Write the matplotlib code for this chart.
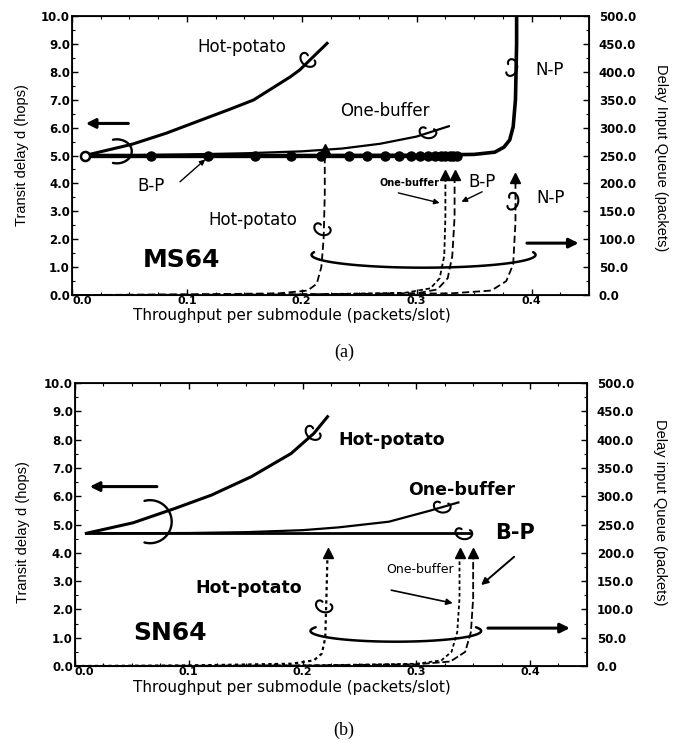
import numpy as np
import matplotlib
matplotlib.use('Agg')
import matplotlib.pyplot as plt
from matplotlib import transforms as mtrans
from matplotlib.ticker import MultipleLocator, FormatStrFormatter

plt.rcParams['font.family'] = ['DejaVu Sans']
plt.rcParams['font.weight'] = 'bold'

# ---------------- data : panel (a) MS64 ----------------
a_hot_x = [0.011, 0.052, 0.082, 0.120, 0.1375, 0.158, 0.190, 0.198, 0.222]
a_hot_y = [5.0, 5.40, 5.80, 6.39, 6.66, 6.99, 7.82, 8.06, 9.02]
a_one_x = [0.011, 0.05, 0.10, 0.15, 0.20, 0.235, 0.268, 0.300, 0.328]
a_one_y = [5.0, 5.01, 5.04, 5.08, 5.15, 5.25, 5.42, 5.68, 6.05]
a_bp_x = [0.011, 0.069, 0.118, 0.159, 0.191, 0.217, 0.241, 0.257, 0.272, 0.285,
          0.295, 0.303, 0.310, 0.316, 0.321, 0.325, 0.329, 0.332, 0.335]
a_bp_y = [5.0] * len(a_bp_x)
a_np_x = [0.011, 0.10, 0.20, 0.30, 0.350, 0.368, 0.376, 0.381, 0.384, 0.386, 0.387, 0.387]
a_np_y = [5.0, 5.0, 5.0, 5.01, 5.04, 5.12, 5.30, 5.56, 6.03, 7.0, 9.0, 10.0]
# queue delay (packets)
a_q_hot_x = [0.0, 0.10, 0.18, 0.205, 0.213, 0.217, 0.219, 0.220, 0.220]
a_q_hot_y = [0, 1, 3, 8, 20, 50, 100, 180, 262]
a_q_one_x = [0.0, 0.20, 0.290, 0.312, 0.320, 0.324, 0.325, 0.325]
a_q_one_y = [0, 1, 4, 12, 30, 70, 140, 215]
a_q_bp_x = [0.0, 0.20, 0.300, 0.318, 0.327, 0.331, 0.333, 0.333]
a_q_bp_y = [0, 1, 3, 10, 30, 70, 140, 215]
a_q_np_x = [0.0, 0.20, 0.330, 0.365, 0.378, 0.384, 0.386, 0.386]
a_q_np_y = [0, 1, 3, 8, 25, 55, 130, 210]

# ---------------- data : panel (b) SN64 ----------------
b_hot_x = [0.010, 0.051, 0.088, 0.120, 0.155, 0.190, 0.210, 0.222]
b_hot_y = [4.69, 5.06, 5.57, 6.04, 6.69, 7.51, 8.22, 8.81]
b_one_x = [0.010, 0.10, 0.15, 0.20, 0.232, 0.276, 0.313, 0.337]
b_one_y = [4.69, 4.70, 4.73, 4.80, 4.90, 5.10, 5.50, 5.78]
b_bp_x = [0.010, 0.348]
b_bp_y = [4.69, 4.69]
b_q_hot_x = [0.0, 0.10, 0.19, 0.210, 0.217, 0.220, 0.221, 0.222]
b_q_hot_y = [0, 1, 4, 10, 22, 50, 120, 200]
b_q_one_x = [0.0, 0.20, 0.300, 0.322, 0.331, 0.336, 0.338, 0.338]
b_q_one_y = [0, 1, 4, 10, 25, 60, 120, 200]
b_q_bp_x = [0.0, 0.20, 0.300, 0.330, 0.343, 0.348, 0.350, 0.350]
b_q_bp_y = [0, 1, 3, 8, 25, 60, 120, 200]

x_ticks = [0.0, 0.1, 0.2, 0.3, 0.4]
left_ticks = list(np.arange(0, 10.01, 1.0))
right_ticks = list(np.arange(0, 500.1, 50.0))

fig = plt.figure(figsize=(6.84, 7.45), dpi=100)
axA = fig.add_axes([0.1053, 0.6040, 0.7558, 0.3745])
axB = fig.add_axes([0.1096, 0.1060, 0.7485, 0.3799])


def setup(ax):
    ax.set_xlim(0, 0.45)
    ax.set_ylim(0, 10)
    ax.set_xticks(x_ticks)
    ax.set_yticks(left_ticks)
    ax.xaxis.set_minor_locator(MultipleLocator(0.025))
    ax.yaxis.set_minor_locator(MultipleLocator(0.5))
    ax.xaxis.set_major_formatter(FormatStrFormatter('%.1f'))
    ax.yaxis.set_major_formatter(FormatStrFormatter('%.1f'))
    ax.tick_params(which='both', direction='in', top=True, right=False,
                   labelsize=8.5, pad=1.5)
    ax.tick_params(axis='x', pad=0.5, labelsize=8)
    ax.tick_params(which='major', length=4, width=1)
    ax.tick_params(which='minor', length=2, width=0.8)
    ax.xaxis.get_major_ticks()[0].label1.set_horizontalalignment('left')
    for s in ax.spines.values():
        s.set_linewidth(1.3)
    ax2 = ax.twinx()
    ax2.set_ylim(0, 500)
    ax2.set_yticks(right_ticks)
    ax2.yaxis.set_minor_locator(MultipleLocator(25))
    ax2.yaxis.set_major_formatter(FormatStrFormatter('%.1f'))
    ax2.tick_params(which='both', direction='in', labelsize=8.5, pad=7)
    ax2.tick_params(which='major', length=4, width=1)
    ax2.tick_params(which='minor', length=2, width=0.8)
    return ax2


axA2 = setup(axA)
axB2 = setup(axB)


def hook(ax, x, y, s=1.0, rot=0.0, mirror=False, lw=1.5):
    t = np.linspace(0.35 * np.pi, 2.45 * np.pi, 80)
    hx = 4.2 * np.cos(t) + 1.1 * t - 5.5
    hy = 3.6 * np.sin(t)
    if mirror:
        hx = -hx
    tr = (mtrans.Affine2D().rotate_deg(rot).scale(s * fig.dpi / 72.0)
          + mtrans.ScaledTranslation(x, y, ax.transData))
    ax.plot(hx, hy, color='k', lw=lw, transform=tr, clip_on=False,
            solid_capstyle='round')


def earc(ax, cx, cy, a, b, t1, t2, lw=1.7):
    t = np.radians(np.linspace(t1, t2, 120))
    ax.plot(cx + a * np.cos(t), cy + b * np.sin(t), color='k', lw=lw,
            solid_capstyle='round')


def arrow(ax, x0, y0, x1, y1, lw=2.2, ms=14):
    ax.annotate('', xy=(x1, y1), xytext=(x0, y0),
                arrowprops=dict(arrowstyle='-|>', lw=lw, color='k',
                                mutation_scale=ms, shrinkA=0, shrinkB=0))


def qcurve(ax, xs, ys, ls, lw=1.3):
    ax.plot(xs, ys, color='k', lw=lw, linestyle=ls)
    ax.plot([xs[-1]], [ys[-1]], marker='^', color='k', ms=6.5, mec='k')


# ================= panel (a) =================
axA.plot(a_hot_x, a_hot_y, color='k', lw=2.2)
axA.plot(a_one_x, a_one_y, color='k', lw=1.6)
axA.plot(a_np_x, a_np_y, color='k', lw=2.6)
axA.plot(a_bp_x, a_bp_y, color='k', lw=2.4, marker='o', ms=6.5)
axA.plot([a_bp_x[0]], [a_bp_y[0]], marker='o', ms=6.5, mfc='white',
         mec='k', mew=1.8, color='k')

qcurve(axA2, a_q_hot_x, a_q_hot_y, (0, (4, 2)))
qcurve(axA2, a_q_one_x, a_q_one_y, (0, (2.5, 1.5)))
qcurve(axA2, a_q_bp_x, a_q_bp_y, (0, (4, 2)))
qcurve(axA2, a_q_np_x, a_q_np_y, (0, (4, 2)))

axA.text(0.148, 8.9, 'Hot-potato', fontsize=12, fontweight='normal',
         ha='center', va='center')
hook(axA, 0.205, 8.39, rot=-40)
axA.text(0.272, 6.6, 'One-buffer', fontsize=12, fontweight='normal',
         ha='center', va='center')
hook(axA, 0.310, 5.80, rot=-10)
axA.text(0.416, 8.06, 'N-P', fontsize=12, fontweight='normal',
         ha='center', va='center')
hook(axA, 0.383, 8.13, rot=80, mirror=True)
axA.text(0.069, 3.9, 'B-P', fontsize=12, fontweight='normal',
         ha='center', va='center')
axA.annotate('', xy=(0.116, 4.86), xytext=(0.094, 4.06),
             arrowprops=dict(arrowstyle='-|>', lw=1.0, color='k',
                             mutation_scale=8, shrinkA=0, shrinkB=0))
earc(axA, 0.039, 5.15, 0.013, 0.43, -105, 105)
arrow(axA, 0.049, 6.15, 0.012, 6.15)
axA.text(0.157, 2.7, 'Hot-potato', fontsize=12, fontweight='normal',
         ha='center', va='center')
hook(axA, 0.218, 2.33, rot=-20)
axA.text(0.095, 1.25, 'MS64', fontsize=18, fontweight='bold',
         ha='center', va='center')

earc(axA2, 0.306, 72, 0.0975, 23, 168, 372, lw=1.8)
axA2.text(0.294, 200, 'One-buffer', fontsize=7, fontweight='bold',
          ha='center', va='center')
axA2.annotate('', xy=(0.320, 165), xytext=(0.284, 183),
              arrowprops=dict(arrowstyle='-|>', lw=1.0, color='k',
                              mutation_scale=8, shrinkA=0, shrinkB=0))
axA2.text(0.357, 203, 'B-P', fontsize=12, fontweight='normal',
          ha='center', va='center')
axA2.annotate('', xy=(0.339, 167), xytext=(0.357, 185),
              arrowprops=dict(arrowstyle='-|>', lw=1.0, color='k',
                              mutation_scale=8, shrinkA=0, shrinkB=0))
axA2.text(0.417, 174, 'N-P', fontsize=12, fontweight='normal',
          ha='center', va='center')
hook(axA2, 0.384, 167, rot=80, mirror=True)
arrow(axA2, 0.396, 93, 0.441, 93)

# ================= panel (b) =================
axB.plot(b_hot_x, b_hot_y, color='k', lw=2.2)
axB.plot(b_one_x, b_one_y, color='k', lw=1.6)
axB.plot(b_bp_x, b_bp_y, color='k', lw=2.0)

qcurve(axB2, b_q_hot_x, b_q_hot_y, (0, (1.5, 1.5)), lw=1.6)
qcurve(axB2, b_q_one_x, b_q_one_y, (0, (2, 1.5)))
qcurve(axB2, b_q_bp_x, b_q_bp_y, (0, (4, 1.5)))

axB.text(0.278, 8.0, 'Hot-potato', fontsize=12.5, fontweight='bold',
         ha='center', va='center')
hook(axB, 0.209, 8.2, rot=-40)
axB.text(0.340, 6.22, 'One-buffer', fontsize=12.5, fontweight='bold',
         ha='center', va='center')
hook(axB, 0.323, 5.6, rot=-10)
axB.text(0.387, 4.69, 'B-P', fontsize=15, fontweight='bold',
         ha='center', va='center')
hook(axB, 0.342, 4.66, rot=-10)
earc(axB, 0.066, 5.1, 0.019, 0.76, -105, 105)
arrow(axB, 0.072, 6.34, 0.013, 6.34)
axB.text(0.084, 1.17, 'SN64', fontsize=18, fontweight='bold',
         ha='center', va='center')

axB2.annotate('', xy=(0.357, 143), xytext=(0.386, 193),
              arrowprops=dict(arrowstyle='-|>', lw=1.4, color='k',
                              mutation_scale=10, shrinkA=0, shrinkB=0))
axB2.text(0.303, 170, 'One-buffer', fontsize=9, fontweight='normal',
          ha='center', va='center')
axB2.annotate('', xy=(0.332, 111), xytext=(0.278, 134),
              arrowprops=dict(arrowstyle='-|>', lw=1.2, color='k',
                              mutation_scale=9, shrinkA=0, shrinkB=0))
axB2.text(0.153, 138, 'Hot-potato', fontsize=12.5, fontweight='bold',
          ha='center', va='center')
hook(axB2, 0.219, 104, rot=-20)
earc(axB2, 0.282, 62, 0.075, 19, 160, 380, lw=1.8)
arrow(axB2, 0.363, 67, 0.435, 67)

# ================= labels =================
xl = 'Throughput per submodule (packets/slot)'
fig.text(0.427, 0.576, xl, fontsize=11, fontweight='normal',
         ha='center', va='center')
fig.text(0.427, 0.077, xl, fontsize=11, fontweight='normal',
         ha='center', va='center')
fig.text(0.032, 0.792, 'Transit delay d (hops)', fontsize=10.5,
         fontweight='normal', family='Liberation Sans', rotation=90,
         ha='center', va='center')
fig.text(0.034, 0.286, 'Transit delay d (hops)', fontsize=10.5,
         fontweight='normal', family='Liberation Sans', rotation=90,
         ha='center', va='center')
fig.text(0.966, 0.788, 'Delay Input Queue (packets)', fontsize=10.5,
         fontweight='normal', family='Liberation Sans', rotation=-90,
         ha='center', va='center')
fig.text(0.965, 0.313, 'Delay input Queue (packets)', fontsize=10.5,
         fontweight='normal', family='Liberation Sans', rotation=-90,
         ha='center', va='center')
fig.text(0.504, 0.527, '(a)', fontsize=13, fontweight='normal',
         family='Liberation Serif', ha='center', va='center')
fig.text(0.503, 0.020, '(b)', fontsize=13, fontweight='normal',
         family='Liberation Serif', ha='center', va='center')

fig.savefig('out.png', dpi=100)
